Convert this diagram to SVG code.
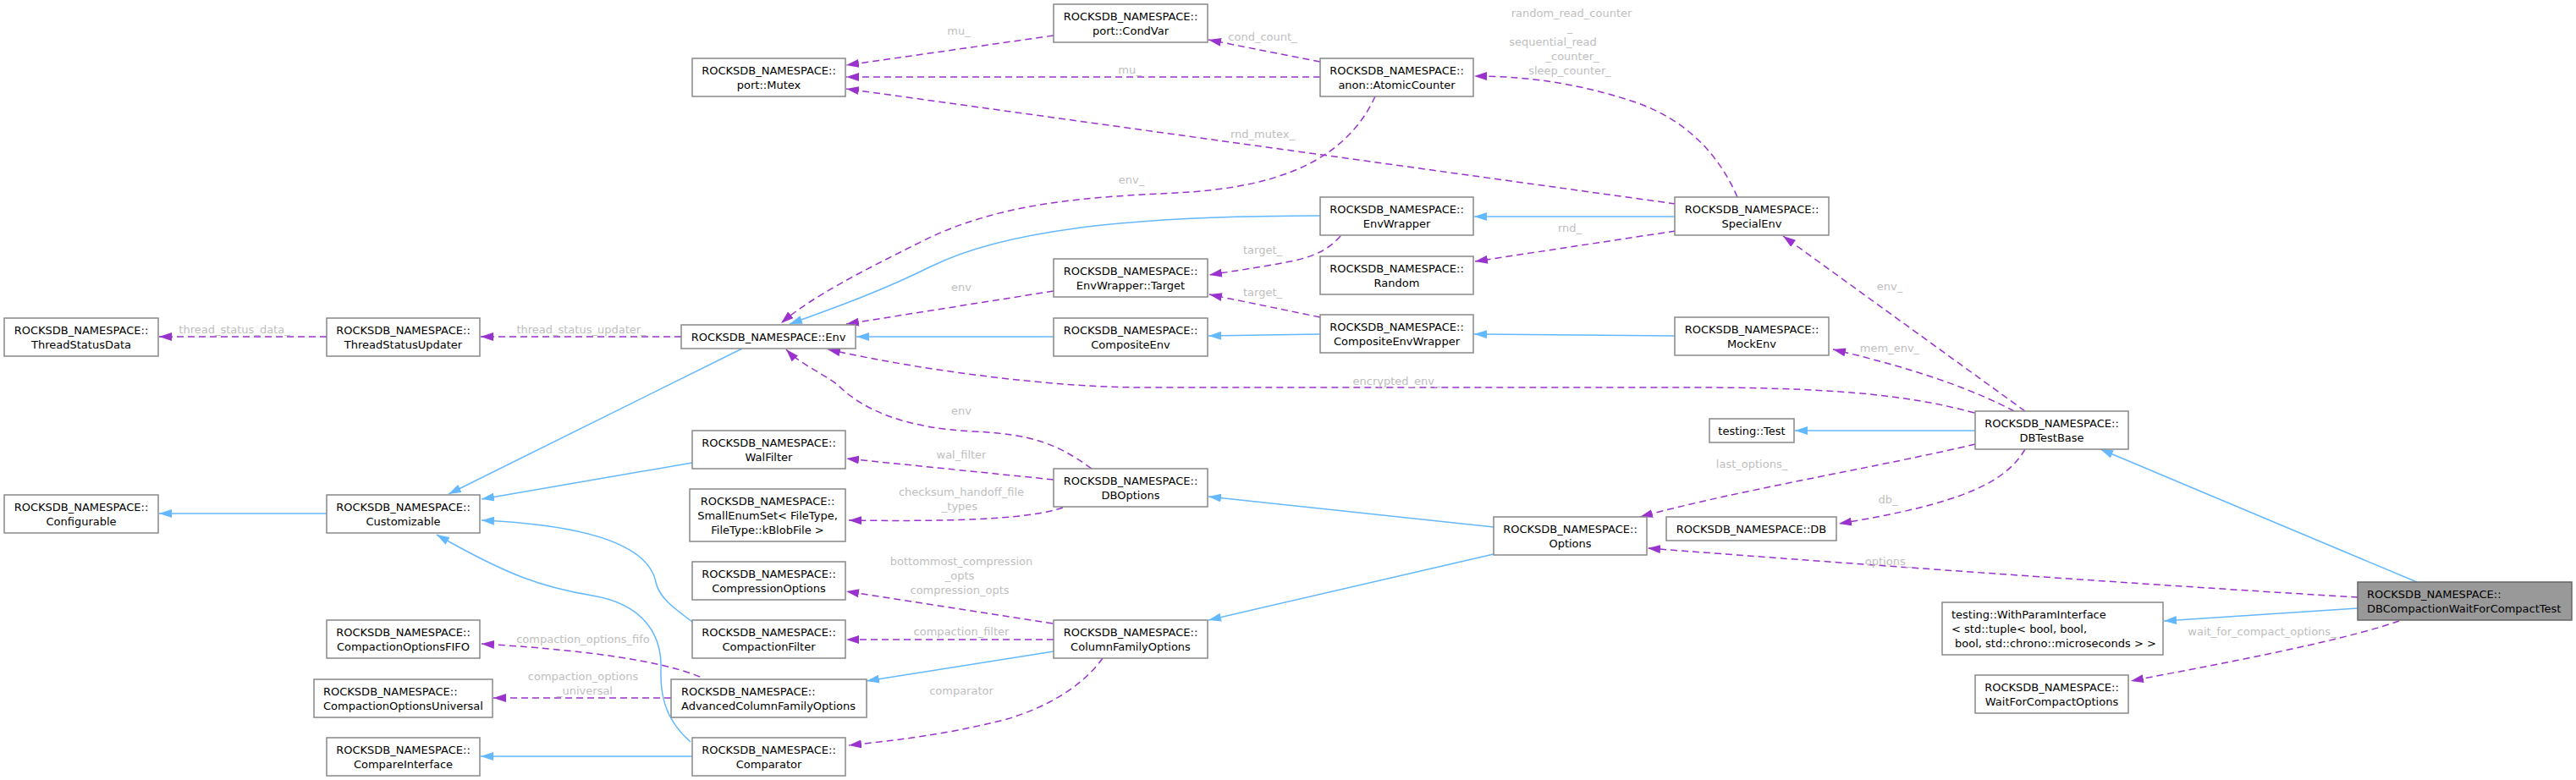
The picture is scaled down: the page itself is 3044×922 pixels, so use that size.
<svg xmlns="http://www.w3.org/2000/svg" width="3044" height="922" viewBox="0 0 3044 922">
<style>
.n rect{fill:#ffffff;stroke:#888888;stroke-width:1.5}
.n.main rect{fill:#999999;stroke:#666666}
.n text{font-family:'DejaVu Sans',sans-serif;font-size:13px;fill:#000000}
.c{text-anchor:middle}
.lbl{font-family:'DejaVu Sans',sans-serif;font-size:13px;fill:#bebebe;text-anchor:middle}
.inh{fill:none;stroke:#63b8ff;stroke-width:1.5;marker-end:url(#ab)}
.use{fill:none;stroke:#9a32cd;stroke-width:1.5;stroke-dasharray:8,5;marker-end:url(#ap)}
</style>
<defs>
<marker id="ab" viewBox="0 0 15 10" refX="15" refY="5" markerWidth="15" markerHeight="10" markerUnits="userSpaceOnUse" orient="auto"><path d="M0,0 L15,5 L0,10 z" fill="#63b8ff"/></marker>
<marker id="ap" viewBox="0 0 15 10" refX="15" refY="5" markerWidth="15" markerHeight="10" markerUnits="userSpaceOnUse" orient="auto"><path d="M0,0 L15,5 L0,10 z" fill="#9a32cd"/></marker>
</defs>
<rect x="0" y="0" width="3044" height="922" fill="#ffffff"/>
<g id="edges">
<path class="inh" d="M386,607 L188,607"/>
<path class="inh" d="M877,412 L530,584"/>
<path class="inh" d="M818,547 L569,590"/>
<path class="inh" d="M818,735 C795,718 778,705 775,688 C765,640 680,620 569,615"/>
<path class="inh" d="M816,877 C785,850 780,820 781,790 C782,755 765,715 700,704 C640,694 600,680 516,632"/>
<path class="inh" d="M818,894 L568,894"/>
<path class="inh" d="M1560,255 C1380,255 1200,265 1100,315 C1040,345 975,368 933,383"/>
<path class="inh" d="M1245,398 L1012,398"/>
<path class="inh" d="M1560,395 L1428,397"/>
<path class="inh" d="M1979,256 L1742,256"/>
<path class="inh" d="M1979,397 L1742,395"/>
<path class="inh" d="M1765,623 L1428,587"/>
<path class="inh" d="M1765,655 L1428,733"/>
<path class="inh" d="M1245,770 L1024,805"/>
<path class="inh" d="M2334,509 L2121,509"/>
<path class="inh" d="M2856,688 L2482,531"/>
<path class="inh" d="M2786,719 L2557,734"/>

<path class="use" d="M1245,42 L1000,77"/>
<text class="lbl" x="1133" y="40.5">mu_</text>
<path class="use" d="M1560,91 L1000,91"/>
<text class="lbl" x="1335" y="87">mu_</text>
<path class="use" d="M1560,73 L1428,47"/>
<text class="lbl" x="1492" y="47.5">cond_count_</text>
<path class="use" d="M1980,241 L1000,105"/>
<text class="lbl" x="1492" y="163">rnd_mutex_</text>
<path class="use" d="M2053,233 C2030,180 1990,140 1930,120 C1860,97 1800,90 1742,90"/>
<text class="lbl" x="1857" y="19.5">random_read_counter</text>
<text class="lbl" x="1855" y="36.5">_</text>
<text class="lbl" x="1835" y="53.5">sequential_read</text>
<text class="lbl" x="1858" y="70.5">_counter_</text>
<text class="lbl" x="1855" y="87.5">sleep_counter_</text>
<path class="use" d="M1584,279 C1570,295 1555,302 1530,308 C1490,316 1460,320 1429,325"/>
<text class="lbl" x="1492" y="300">target_</text>
<path class="use" d="M1980,273 L1743,309"/>
<text class="lbl" x="1855" y="273.5">rnd_</text>
<path class="use" d="M1560,375 L1429,348"/>
<text class="lbl" x="1492" y="349.5">target_</text>
<path class="use" d="M1245,344 L1000,383"/>
<text class="lbl" x="1136" y="343.5">env</text>
<path class="use" d="M1625,114 C1590,190 1510,222 1390,228 C1280,233 1180,240 1090,285 C1020,320 960,350 923,382"/>
<text class="lbl" x="1337" y="217">env_</text>
<path class="use" d="M2333,488 C2250,465 2150,458 2000,458 L1350,458 C1250,458 1100,440 978,413"/>
<text class="lbl" x="1650" y="454.5">encrypted_env_</text>
<path class="use" d="M1290,554 C1250,525 1220,513 1150,510 C1070,506 1020,485 990,455 C970,440 945,430 929,413"/>
<text class="lbl" x="1136" y="490">env</text>
<path class="use" d="M1245,567 L1000,542"/>
<text class="lbl" x="1136" y="541.5">wal_filter</text>
<path class="use" d="M1256,600 C1220,612 1150,617 1003,615"/>
<text class="lbl" x="1136" y="585.5">checksum_handoff_file</text>
<text class="lbl" x="1134" y="603">_types</text>
<path class="use" d="M1244,737 L1000,699"/>
<text class="lbl" x="1136" y="667.5">bottommost_compression</text>
<text class="lbl" x="1134" y="684.5">_opts</text>
<text class="lbl" x="1134" y="702">compression_opts</text>
<path class="use" d="M1245,756 L1000,756"/>
<text class="lbl" x="1136" y="751">compaction_filter</text>
<path class="use" d="M1303,778 C1280,810 1240,835 1190,850 C1120,868 1060,875 1003,881"/>
<text class="lbl" x="1136" y="820.5">comparator</text>
<path class="use" d="M827,800 C790,785 720,770 569,761"/>
<text class="lbl" x="689" y="759.5">compaction_options_fifo</text>
<path class="use" d="M793,825 L583,825"/>
<text class="lbl" x="689" y="803.5">compaction_options</text>
<text class="lbl" x="691" y="821">_universal</text>
<path class="use" d="M386,398 L188,398"/>
<text class="lbl" x="277" y="393.5">thread_status_data_</text>
<path class="use" d="M805,398 L568,398"/>
<text class="lbl" x="687" y="393.5">thread_status_updater_</text>
<path class="use" d="M2393,486 L2107,279"/>
<text class="lbl" x="2233" y="342.5">env_</text>
<path class="use" d="M2380,486 C2340,465 2280,440 2166,413"/>
<text class="lbl" x="2233" y="415.5">mem_env_</text>
<path class="use" d="M2334,525 C2230,550 2050,580 1938,611"/>
<text class="lbl" x="2070" y="552.5">last_options_</text>
<path class="use" d="M2393,531 C2370,570 2320,595 2173,619"/>
<text class="lbl" x="2231" y="594.5">db_</text>
<path class="use" d="M2786,706 C2600,695 2300,675 1947,648"/>
<text class="lbl" x="2231" y="667.5">options_</text>
<path class="use" d="M2835,734 C2760,760 2620,785 2518,805"/>
<text class="lbl" x="2673" y="751">wait_for_compact_options_</text>
</g>

<g id="ThreadStatusData" class="n"><rect x="5" y="376" width="182" height="45"/><text class="c" x="96" y="394.5">ROCKSDB_NAMESPACE::</text><text class="c" x="96" y="411.5">ThreadStatusData</text></g>
<g id="ThreadStatusUpdater" class="n"><rect x="386" y="376" width="181" height="45"/><text class="c" x="476.5" y="394.5">ROCKSDB_NAMESPACE::</text><text class="c" x="476.5" y="411.5">ThreadStatusUpdater</text></g>
<g id="Configurable" class="n"><rect x="5" y="585" width="182" height="45"/><text class="c" x="96" y="603.5">ROCKSDB_NAMESPACE::</text><text class="c" x="96" y="620.5">Configurable</text></g>
<g id="Customizable" class="n"><rect x="386" y="585" width="181" height="45"/><text class="c" x="476.5" y="603.5">ROCKSDB_NAMESPACE::</text><text class="c" x="476.5" y="620.5">Customizable</text></g>
<g id="CompactionOptionsFIFO" class="n"><rect x="386" y="733" width="181" height="45"/><text class="c" x="476.5" y="751.5">ROCKSDB_NAMESPACE::</text><text class="c" x="476.5" y="768.5">CompactionOptionsFIFO</text></g>
<g id="CompactionOptionsUniversal" class="n"><rect x="371" y="803" width="211" height="45"/><text x="382" y="821.5">ROCKSDB_NAMESPACE::</text><text x="382" y="838.5">CompactionOptionsUniversal</text></g>
<g id="CompareInterface" class="n"><rect x="386" y="872" width="181" height="45"/><text class="c" x="476.5" y="890.5">ROCKSDB_NAMESPACE::</text><text class="c" x="476.5" y="907.5">CompareInterface</text></g>
<g id="Mutex" class="n"><rect x="818" y="69" width="181" height="45"/><text class="c" x="908.5" y="87.5">ROCKSDB_NAMESPACE::</text><text class="c" x="908.5" y="104.5">port::Mutex</text></g>
<g id="Env" class="n"><rect x="805" y="384" width="206" height="28"/><text class="c" x="908" y="402.5">ROCKSDB_NAMESPACE::Env</text></g>
<g id="WalFilter" class="n"><rect x="818" y="509" width="181" height="45"/><text class="c" x="908.5" y="527.5">ROCKSDB_NAMESPACE::</text><text class="c" x="908.5" y="544.5">WalFilter</text></g>
<g id="SmallEnumSet" class="n"><rect x="815" y="578" width="184" height="62"/><text class="c" x="907" y="596.5">ROCKSDB_NAMESPACE::</text><text class="c" x="907" y="613.5">SmallEnumSet&lt; FileType,</text><text class="c" x="907" y="630.5">FileType::kBlobFile &gt;</text></g>
<g id="CompressionOptions" class="n"><rect x="818" y="664" width="181" height="45"/><text class="c" x="908.5" y="682.5">ROCKSDB_NAMESPACE::</text><text class="c" x="908.5" y="699.5">CompressionOptions</text></g>
<g id="CompactionFilter" class="n"><rect x="818" y="733" width="181" height="45"/><text class="c" x="908.5" y="751.5">ROCKSDB_NAMESPACE::</text><text class="c" x="908.5" y="768.5">CompactionFilter</text></g>
<g id="AdvancedColumnFamilyOptions" class="n"><rect x="793" y="803" width="231" height="45"/><text x="805" y="821.5">ROCKSDB_NAMESPACE::</text><text x="805" y="838.5">AdvancedColumnFamilyOptions</text></g>
<g id="Comparator" class="n"><rect x="818" y="872" width="181" height="45"/><text class="c" x="908.5" y="890.5">ROCKSDB_NAMESPACE::</text><text class="c" x="908.5" y="907.5">Comparator</text></g>
<g id="CondVar" class="n"><rect x="1245" y="5" width="182" height="45"/><text class="c" x="1336" y="23.5">ROCKSDB_NAMESPACE::</text><text class="c" x="1336" y="40.5">port::CondVar</text></g>
<g id="EnvWrapperTarget" class="n"><rect x="1245" y="306" width="182" height="45"/><text class="c" x="1336" y="324.5">ROCKSDB_NAMESPACE::</text><text class="c" x="1336" y="341.5">EnvWrapper::Target</text></g>
<g id="CompositeEnv" class="n"><rect x="1245" y="376" width="182" height="45"/><text class="c" x="1336" y="394.5">ROCKSDB_NAMESPACE::</text><text class="c" x="1336" y="411.5">CompositeEnv</text></g>
<g id="DBOptions" class="n"><rect x="1245" y="554" width="182" height="45"/><text class="c" x="1336" y="572.5">ROCKSDB_NAMESPACE::</text><text class="c" x="1336" y="589.5">DBOptions</text></g>
<g id="ColumnFamilyOptions" class="n"><rect x="1245" y="733" width="182" height="45"/><text class="c" x="1336" y="751.5">ROCKSDB_NAMESPACE::</text><text class="c" x="1336" y="768.5">ColumnFamilyOptions</text></g>
<g id="AtomicCounter" class="n"><rect x="1560" y="69" width="181" height="45"/><text class="c" x="1650.5" y="87.5">ROCKSDB_NAMESPACE::</text><text class="c" x="1650.5" y="104.5">anon::AtomicCounter</text></g>
<g id="EnvWrapper" class="n"><rect x="1560" y="233" width="181" height="45"/><text class="c" x="1650.5" y="251.5">ROCKSDB_NAMESPACE::</text><text class="c" x="1650.5" y="268.5">EnvWrapper</text></g>
<g id="Random" class="n"><rect x="1560" y="303" width="181" height="45"/><text class="c" x="1650.5" y="321.5">ROCKSDB_NAMESPACE::</text><text class="c" x="1650.5" y="338.5">Random</text></g>
<g id="CompositeEnvWrapper" class="n"><rect x="1560" y="372" width="181" height="45"/><text class="c" x="1650.5" y="390.5">ROCKSDB_NAMESPACE::</text><text class="c" x="1650.5" y="407.5">CompositeEnvWrapper</text></g>
<g id="Options" class="n"><rect x="1765" y="611" width="181" height="45"/><text class="c" x="1855.5" y="629.5">ROCKSDB_NAMESPACE::</text><text class="c" x="1855.5" y="646.5">Options</text></g>
<g id="SpecialEnv" class="n"><rect x="1979" y="233" width="182" height="45"/><text class="c" x="2070" y="251.5">ROCKSDB_NAMESPACE::</text><text class="c" x="2070" y="268.5">SpecialEnv</text></g>
<g id="MockEnv" class="n"><rect x="1979" y="375" width="182" height="45"/><text class="c" x="2070" y="393.5">ROCKSDB_NAMESPACE::</text><text class="c" x="2070" y="410.5">MockEnv</text></g>
<g id="DB" class="n"><rect x="1969" y="611" width="201" height="28"/><text class="c" x="2069.5" y="629.5">ROCKSDB_NAMESPACE::DB</text></g>
<g id="TestingTest" class="n"><rect x="2020" y="495" width="100" height="28"/><text class="c" x="2070" y="513.5">testing::Test</text></g>
<g id="DBTestBase" class="n"><rect x="2334" y="486" width="181" height="45"/><text class="c" x="2424.5" y="504.5">ROCKSDB_NAMESPACE::</text><text class="c" x="2424.5" y="521.5">DBTestBase</text></g>
<g id="WithParamInterface" class="n"><rect x="2295" y="712" width="261" height="62"/><text x="2306" y="730.5">testing::WithParamInterface</text><text x="2306" y="747.5">&lt; std::tuple&lt; bool, bool,</text><text x="2310" y="764.5">bool, std::chrono::microseconds &gt; &gt;</text></g>
<g id="WaitForCompactOptions" class="n"><rect x="2334" y="798" width="181" height="45"/><text class="c" x="2424.5" y="816.5">ROCKSDB_NAMESPACE::</text><text class="c" x="2424.5" y="833.5">WaitForCompactOptions</text></g>
<g id="DBCompactionWaitForCompactTest" class="n main"><rect x="2786" y="688" width="253" height="45"/><text x="2797" y="706.5">ROCKSDB_NAMESPACE::</text><text x="2797" y="723.5">DBCompactionWaitForCompactTest</text></g>
</svg>
